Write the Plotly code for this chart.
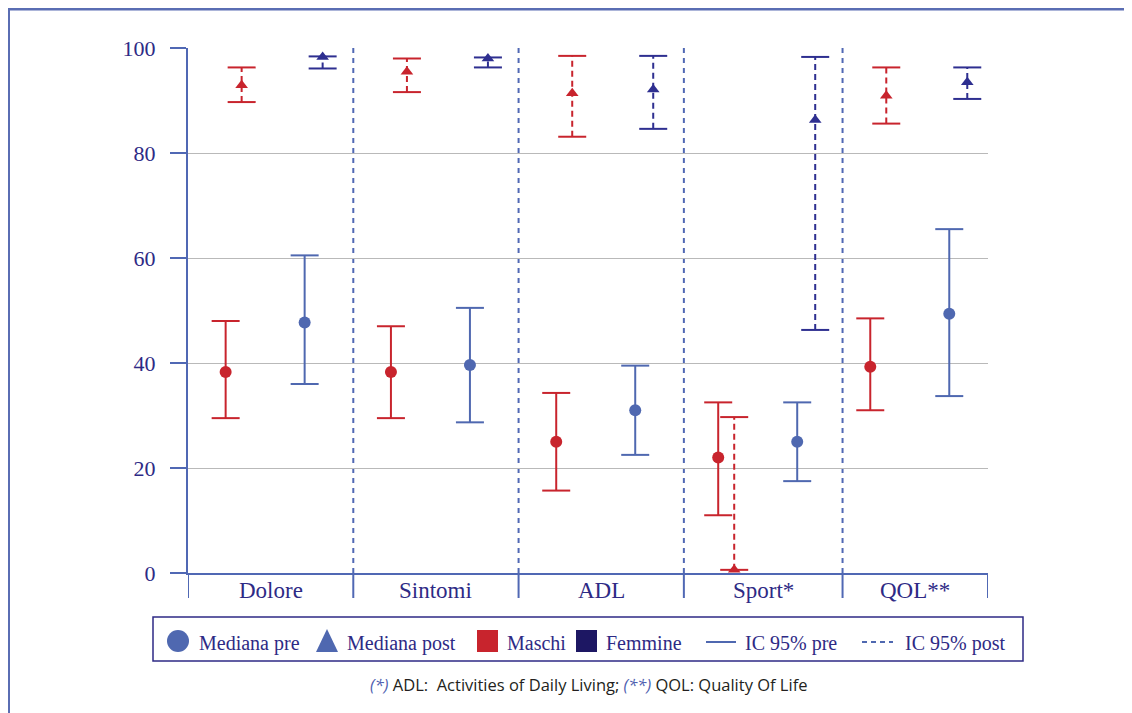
import plotly.graph_objects as go

# ---------------- data ----------------
categories = ["Dolore", "Sintomi", "ADL", "Sport*", "QOL**"]

maschi_pre_med = [38.3, 38.3, 25.0, 22.0, 39.3]
maschi_pre_lo = [29.5, 29.5, 15.7, 11.0, 31.0]
maschi_pre_hi = [48.0, 47.0, 34.3, 32.5, 48.5]

maschi_post_med = [92.9, 95.5, 91.4, 0.6, 90.9]
maschi_post_lo = [89.7, 91.6, 83.1, 0.6, 85.6]
maschi_post_hi = [96.3, 98.0, 98.5, 29.7, 96.3]

femmine_pre_med = [47.7, 39.6, 31.0, 25.0, 49.4]
femmine_pre_lo = [36.0, 28.7, 22.5, 17.5, 33.7]
femmine_pre_hi = [60.5, 50.5, 39.5, 32.5, 65.5]

femmine_post_med = [98.3, 98.0, 92.1, 86.3, 93.5]
femmine_post_lo = [96.1, 96.3, 84.6, 46.3, 90.3]
femmine_post_hi = [98.4, 98.2, 98.5, 98.3, 96.3]

y_ticks = [0, 20, 40, 60, 80, 100]

legend_labels = ["Mediana pre", "Mediana post", "Maschi", "Femmine", "IC 95% pre", "IC 95% post"]
footnote = ('<span style="color:#4f5fb0"><i>(*)</i></span> ADL:  Activities of Daily Living; '
            '<span style="color:#4f5fb0"><i>(**)</i></span> QOL: Quality Of Life')

# ---------------- layout constants ----------------
OFF = 8                      # page body margin in the browser
W, H = 1132, 713 - OFF
PL, PR, PT, PB = 188, 988, 48, 573   # plot box in window pixels
cat_bounds = [0, 1, 2, 3, 3.96, 4.84]
centers = [(cat_bounds[i] + cat_bounds[i + 1]) / 2 for i in range(len(categories))]
UNIT = (PR - PL) / (cat_bounds[-1] - cat_bounds[0])
off = {"mpre": -45 / UNIT, "mpost": -29 / UNIT, "fpre": 34 / UNIT, "fpost": 52 / UNIT}

RED = "#c8242d"
BLUE = "#4f68b0"
NAVY = "#2e2f90"
NAVY_SQ = "#1d1763"
TXT = "#2e2a85"
AX = "#5068b4"
GRID = "#b9b9b9"
SERIF = "Liberation Serif"


def pxx(x):
    return (x - PL) / (PR - PL)


def pxy(y):
    return (PB - y) / (PB - PT)


fig = go.Figure()

series = [
    ("mpre", maschi_pre_med, maschi_pre_lo, maschi_pre_hi, RED, "solid", "circle", 12),
    ("mpost", maschi_post_med, maschi_post_lo, maschi_post_hi, RED, "6px,4px", "triangle-up", 11),
    ("fpre", femmine_pre_med, femmine_pre_lo, femmine_pre_hi, BLUE, "solid", "circle", 12),
    ("fpost", femmine_post_med, femmine_post_lo, femmine_post_hi, NAVY, "6px,4px", "triangle-up", 11),
]

for key, med, lo, hi, col, dash, sym, msize in series:
    xs = [c + off[key] for c in centers]
    lx, ly = [], []
    for x, a, b in zip(xs, lo, hi):
        lx += [x, x, None]
        ly += [a, b, None]
    fig.add_trace(go.Scatter(x=lx, y=ly, mode="lines", line=dict(color=col, width=2, dash=dash),
                             showlegend=False, hoverinfo="skip"))
    fig.add_trace(go.Scatter(x=xs + xs, y=lo + hi, mode="markers",
                             marker=dict(symbol="line-ew", size=20, line=dict(color=col, width=2)),
                             showlegend=False, hoverinfo="skip"))
    fig.add_trace(go.Scatter(x=xs, y=med, mode="markers",
                             marker=dict(symbol=sym, size=msize, color=col, line=dict(width=0)),
                             showlegend=False))

shapes = []
# dashed separators
for b in cat_bounds[1:-1]:
    shapes.append(dict(type="line", xref="x", yref="y", x0=b, x1=b, y0=0, y1=100,
                       line=dict(color=AX, width=2, dash="5px,5px"), layer="below"))
# tick marks below axis at category boundaries
for b in cat_bounds:
    shapes.append(dict(type="line", xref="x", yref="paper", x0=b, x1=b, y0=0, y1=pxy(598),
                       line=dict(color=AX, width=2)))
# frame
shapes.append(dict(type="line", xref="paper", yref="paper", x0=pxx(8), x1=pxx(1145),
                   y0=pxy(9), y1=pxy(9), line=dict(color="#5a6db3", width=3)))
shapes.append(dict(type="line", xref="paper", yref="paper", x0=pxx(9), x1=pxx(9),
                   y0=pxy(9), y1=pxy(720), line=dict(color="#5a6db3", width=2)))
# legend box
shapes.append(dict(type="rect", xref="paper", yref="paper", x0=pxx(153), x1=pxx(1023),
                   y0=pxy(617), y1=pxy(661), line=dict(color=TXT, width=1.5)))
# legend symbols
LY = 641
shapes.append(dict(type="circle", xref="paper", yref="paper", x0=pxx(167), x1=pxx(189),
                   y0=pxy(LY - 11), y1=pxy(LY + 11), fillcolor=BLUE, line=dict(width=0)))
shapes.append(dict(type="path", xref="paper", yref="paper",
                   path=f"M {pxx(316)} {pxy(LY + 11)} L {pxx(338)} {pxy(LY + 11)} L {pxx(327)} {pxy(LY - 12)} Z",
                   fillcolor=BLUE, line=dict(width=0)))
shapes.append(dict(type="rect", xref="paper", yref="paper", x0=pxx(477), x1=pxx(498),
                   y0=pxy(LY - 11), y1=pxy(LY + 11), fillcolor=RED, line=dict(width=0)))
shapes.append(dict(type="rect", xref="paper", yref="paper", x0=pxx(576), x1=pxx(597),
                   y0=pxy(LY - 11), y1=pxy(LY + 11), fillcolor=NAVY_SQ, line=dict(width=0)))
shapes.append(dict(type="line", xref="paper", yref="paper", x0=pxx(706), x1=pxx(736),
                   y0=pxy(LY + 1), y1=pxy(LY + 1), line=dict(color=BLUE, width=2)))
shapes.append(dict(type="line", xref="paper", yref="paper", x0=pxx(862), x1=pxx(893),
                   y0=pxy(LY + 1), y1=pxy(LY + 1), line=dict(color=BLUE, width=2, dash="5px,4px")))

annotations = []
for c, lab in zip(centers, categories):
    annotations.append(dict(xref="x", yref="paper", x=c, y=pxy(590), text=lab,
                            showarrow=False, xanchor="center", yanchor="middle",
                            font=dict(family=SERIF, size=23, color=TXT)))
leg_x = [197, 345, 505, 604, 743, 903]
for lab, x in zip(legend_labels, leg_x):
    annotations.append(dict(xref="paper", yref="paper", x=pxx(x), y=pxy(LY + 2), text=lab,
                            showarrow=False, xanchor="left", yanchor="middle",
                            font=dict(family=SERIF, size=20, color=TXT)))
annotations.append(dict(xref="paper", yref="paper", x=pxx(588), y=pxy(684), text=footnote,
                        showarrow=False, xanchor="center", yanchor="middle",
                        font=dict(family="Open Sans", size=16.5, color="#231f20")))

fig.update_layout(
    width=W, height=H,
    margin=dict(l=PL - OFF, r=W - (PR - OFF), t=PT - OFF, b=H - (PB - OFF), pad=0),
    paper_bgcolor="white", plot_bgcolor="white",
    showlegend=False,
    shapes=shapes,
    annotations=annotations,
    xaxis=dict(range=[cat_bounds[0], cat_bounds[-1]], showticklabels=False,
               showgrid=False, zeroline=False, showline=True, linecolor=AX, linewidth=2,
               ticks=""),
    yaxis=dict(range=[0, 100], tickvals=y_ticks, showgrid=True, gridcolor=GRID, gridwidth=1.2,
               zeroline=False, showline=True, linecolor=AX, linewidth=2,
               ticks="outside", ticklen=16, tickwidth=2, tickcolor=AX, ticklabelstandoff=10,
               tickfont=dict(family=SERIF, size=22, color=TXT)),
)

fig.write_html("out.html")
